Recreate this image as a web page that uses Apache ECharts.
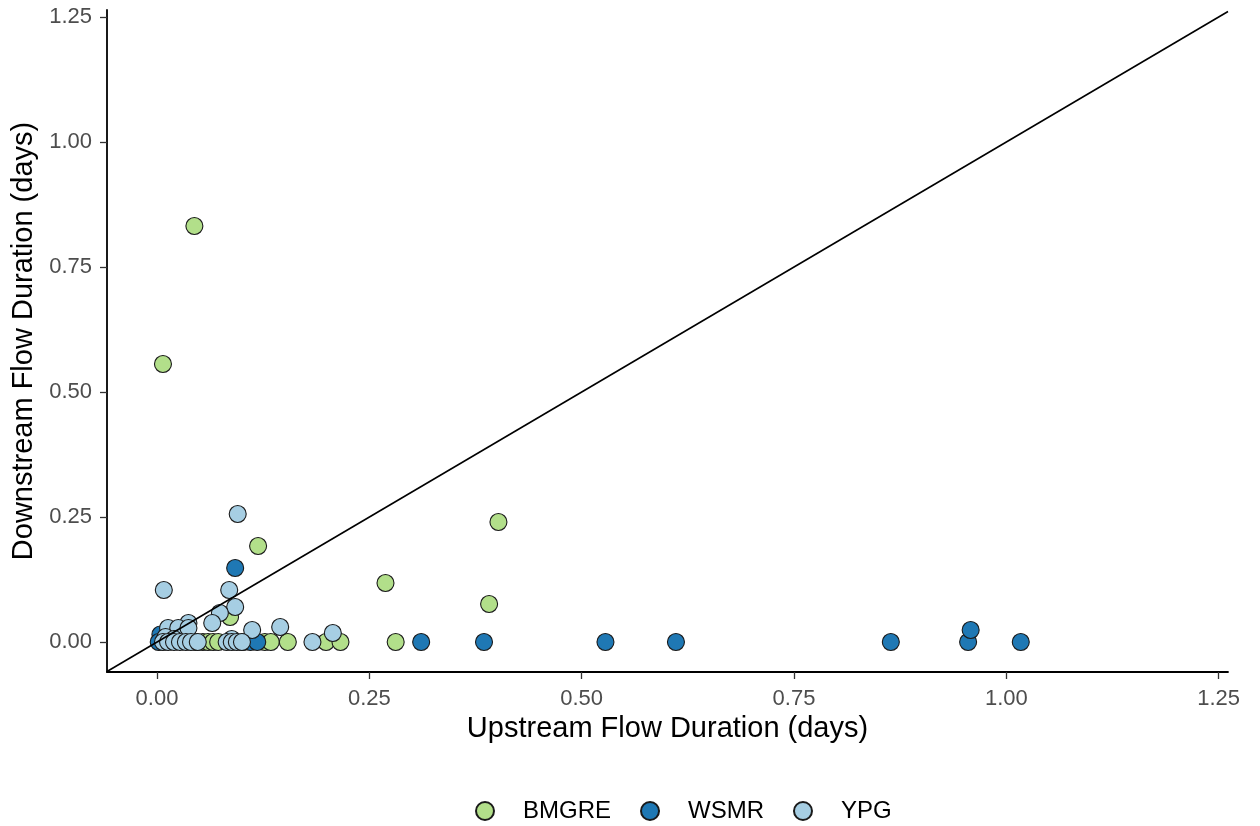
<!DOCTYPE html>
<html>
<head>
<meta charset="utf-8">
<script src="https://cdn.jsdelivr.net/npm/echarts@6/dist/echarts.min.js"></script>
<style>html,body{margin:0;padding:0;background:#fff}#c{width:1260px;height:826px}</style>
</head>
<body>
<div id="c"></div>
<script>
// Data: [upstream, downstream] in days
const seriesNames = ['BMGRE', 'WSMR', 'YPG'];
const bmgre = [
  [0.044,0.832],[0.007,0.556],[0.119,0.192],[0.402,0.240],[0.269,0.118],[0.391,0.076],[0.086,0.050],
  [0.046,0],[0.054,0],[0.060,0],[0.066,0],[0.072,0],[0.101,0],[0.127,0],[0.134,0],[0.154,0],
  [0.199,0],[0.216,0],[0.281,0]
];
const wsmr = [
  [0.092,0.148],[0.004,0.015],[0.002,0],[0.110,0],[0.118,0],[0.311,0],[0.385,0],[0.528,0],
  [0.611,0],[0.864,0],[0.955,0],[0.958,0.024],[1.017,0]
];
const ypg = [
  [0.095,0.256],[0.008,0.104],[0.085,0.104],[0.092,0.070],[0.074,0.058],[0.065,0.038],
  [0.037,0.038],[0.013,0.028],[0.025,0.028],[0.037,0.028],[0.010,0.010],[0.112,0.024],
  [0.145,0.030],[0.207,0.018],[0.183,0],[0.088,0.006],[0.020,0.006],
  [0.007,0],[0.013,0],[0.020,0],[0.027,0],[0.034,0],[0.040,0],[0.048,0],[0.082,0],
  [0.088,0],[0.094,0],[0.100,0]
];
const tickValues = [0, 0.25, 0.5, 0.75, 1.0, 1.25];
const xRange = [-0.0589, 1.261];
const yRange = [-0.06, 1.264];
const oneToOne = [[xRange[0], xRange[0]], [xRange[1], xRange[1]]];

const colors = {BMGRE: '#b2df8a', WSMR: '#1f78b4', YPG: '#a6cee3'};
const font = '"Liberation Sans", Arial, Helvetica, sans-serif';

function scatter(name, data) {
  return {
    name, type: 'scatter', data, symbol: 'circle', symbolSize: 17,
    itemStyle: {color: colors[name], borderColor: '#1a1a1a', borderWidth: 1.1, opacity: 1},
    emphasis: {disabled: true}, z: 3
  };
}

function axisCommon(name, range, gap, margin) {
  return {
    type: 'value', min: range[0], max: range[1], name, nameLocation: 'middle', nameGap: gap,
    nameTextStyle: {fontFamily: font, fontSize: 29, color: '#000'},
    axisLine: {show: true, onZero: false, lineStyle: {color: '#000', width: 1.8}},
    axisTick: {show: true, length: 7, customValues: tickValues, lineStyle: {color: '#333', width: 1.3}},
    axisLabel: {show: true, customValues: tickValues, fontFamily: font, fontSize: 22, color: '#4d4d4d',
      formatter: v => v.toFixed(2), margin},
    splitLine: {show: false}
  };
}

const chart = echarts.init(document.getElementById('c'), null, {renderer: 'canvas'});
chart.setOption({
  animation: false,
  backgroundColor: '#fff',
  grid: {left: 107, right: 32, top: 10, bottom: 154},
  xAxis: axisCommon('Upstream Flow Duration (days)', xRange, 41, 16),
  yAxis: axisCommon('Downstream Flow Duration (days)', yRange, 68, 15),
  legend: {
    data: seriesNames, left: 470, top: 794, icon: 'circle', itemWidth: 18, itemHeight: 18, itemGap: 29,
    textStyle: {fontFamily: font, fontSize: 24, color: '#000', padding: [0, 0, 0, 24]}
  },
  series: [
    scatter('BMGRE', bmgre),
    scatter('WSMR', wsmr),
    scatter('YPG', ypg),
    {name: '1:1', type: 'line', data: oneToOne, symbol: 'none', silent: true, z: 5,
     lineStyle: {color: '#000', width: 1.6}}
  ]
});
</script>
</body>
</html>
